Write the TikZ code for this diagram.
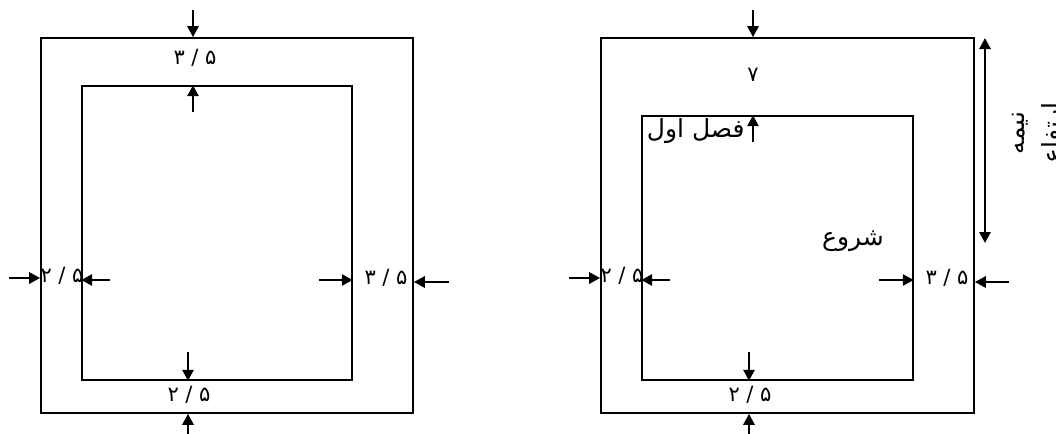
\documentclass[tikz,border=0pt]{standalone}
\usepackage{fontspec}
\usetikzlibrary{arrows.meta}
\TeXXeTstate=1
\newfontfamily\fa[Script=Arabic]{DejaVu Sans}

\begin{document}
\begin{tikzpicture} [
    x=0.5pt, y=-0.5pt,
    box/.style   = { rectangle, draw, line width=0.8pt, inner sep=0pt },
    line/.style  = { draw, line width=1.4pt, -{Triangle[length=5.5pt,width=5.5pt]} },
    dim/.style   = { font=\fa\fontsize{10.5}{12}\selectfont, inner sep=1pt },
    word/.style  = { font=\fa\fontsize{12.5}{18}\selectfont, inner sep=1pt },
  ]

  \useasboundingbox (0,0) rectangle (1056,434);

  % left plan
  \node[box, minimum width=186pt, minimum height=187.5pt] (outerL) at (227,225.5) {};
  \node[box, minimum width=135pt, minimum height=147pt]   (innerL) at (217,233) {};

  \node[dim] (topL)   at (195,58)  {\beginR\beginL ۳ / ۵\endL\endR};
  \node[dim] (leftL)  at (62,276)  {\beginR\beginL ۲ / ۵\endL\endR};
  \node[dim] (rightL) at (386,278) {\beginR\beginL ۳ / ۵\endL\endR};
  \node[dim] (botL)   at (189,395) {\beginR\beginL ۲ / ۵\endL\endR};

  \coordinate (a1) at (193,10);
  \coordinate (a2) at (193,112);
  \coordinate (a3) at (9,278);
  \coordinate (a4) at (110,280);
  \coordinate (a5) at (319,280);
  \coordinate (a6) at (449,282);
  \coordinate (a7) at (188,352);
  \coordinate (a8) at (188,434);

  \path [line] (a1) -- (a1 |- outerL.north);
  \path [line] (a2) -- (a2 |- innerL.north);
  \path [line] (a3) -- (a3 -| outerL.west);
  \path [line] (a4) -- (a4 -| innerL.west);
  \path [line] (a5) -- (a5 -| innerL.east);
  \path [line] (a6) -- (a6 -| outerL.east);
  \path [line] (a7) -- (a7 |- innerL.south);
  \path [line] (a8) -- (a8 |- outerL.south);

  % right plan
  \node[box, minimum width=186.5pt, minimum height=187.5pt] (outerR) at (787.5,225.5) {};
  \node[box, minimum width=135.5pt, minimum height=132pt]   (innerR) at (777.5,248) {};

  \node[dim] (topR)   at (753,75)  {۷};
  \node[dim] (leftR)  at (622,276) {\beginR\beginL ۲ / ۵\endL\endR};
  \node[dim] (rightR) at (947,278) {\beginR\beginL ۳ / ۵\endL\endR};
  \node[dim] (botR)   at (750,395) {\beginR\beginL ۲ / ۵\endL\endR};
  \node[word, anchor=east] (first) at (747,131) {\beginR فصل اول\endR};
  \node[word] (start) at (853,241) {\beginR شروع\endR};

  \coordinate (b1) at (753,10);
  \coordinate (b2) at (753,142);
  \coordinate (b3) at (569,278);
  \coordinate (b4) at (670,280);
  \coordinate (b5) at (879,280);
  \coordinate (b6) at (1009,282);
  \coordinate (b7) at (749,352);
  \coordinate (b8) at (749,434);

  \path [line] (b1) -- (b1 |- outerR.north);
  \path [line] (b2) -- (b2 |- innerR.north);
  \path [line] (b3) -- (b3 -| outerR.west);
  \path [line] (b4) -- (b4 -| innerR.west);
  \path [line] (b5) -- (b5 -| innerR.east);
  \path [line] (b6) -- (b6 -| outerR.east);
  \path [line] (b7) -- (b7 |- innerR.south);
  \path [line] (b8) -- (b8 |- outerR.south);

  % half height
  \coordinate (c1) at (985,38);
  \coordinate (c2) at (985,243);
  \path [line, {Triangle[length=5.5pt,width=5.5pt]}-{Triangle[length=5.5pt,width=5.5pt]}] (c1) -- (c2);
  \node[word, rotate=90, align=center, anchor=north] (half) at (1010,133)
    {\beginR نیمه\endR\\\beginR ارتفاع\endR};
\end{tikzpicture}
\end{document}
